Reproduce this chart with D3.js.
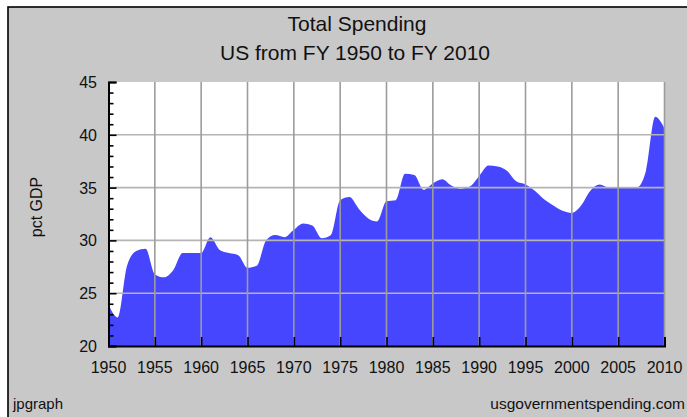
<!DOCTYPE html>
<html>
<head>
<meta charset="utf-8">
<script src="https://cdn.jsdelivr.net/npm/d3@7"></script>
<style>
  body { margin: 0; background: #fff; }
  svg { display: block; font-family: "Liberation Sans", Arial, sans-serif; }
</style>
</head>
<body>
<div id="chart"></div>
<script>
// fiscal years and total spending, pct of GDP
var years = [1950, 1951, 1952, 1953, 1954, 1955, 1956, 1957, 1958, 1959,
             1960, 1961, 1962, 1963, 1964, 1965, 1966, 1967, 1968, 1969,
             1970, 1971, 1972, 1973, 1974, 1975, 1976, 1977, 1978, 1979,
             1980, 1981, 1982, 1983, 1984, 1985, 1986, 1987, 1988, 1989,
             1990, 1991, 1992, 1993, 1994, 1995, 1996, 1997, 1998, 1999,
             2000, 2001, 2002, 2003, 2004, 2005, 2006, 2007, 2008, 2009, 2010];
var spending = [23.9, 22.7, 27.6, 29.0, 29.2, 26.8, 26.5, 27.2, 28.8, 28.8,
                28.8, 30.3, 29.1, 28.8, 28.6, 27.4, 27.6, 30.0, 30.5, 30.3,
                31.0, 31.6, 31.4, 30.2, 30.5, 33.8, 34.1, 33.0, 32.1, 31.8,
                33.7, 33.8, 36.3, 36.2, 34.8, 35.4, 35.8, 35.2, 34.9, 35.1,
                36.1, 37.1, 37.0, 36.6, 35.6, 35.3, 34.7, 33.9, 33.3, 32.8,
                32.6, 33.3, 34.7, 35.3, 35.0, 35.0, 35.0, 35.0, 36.6, 41.7, 40.6];
var xTicks = [1950, 1955, 1960, 1965, 1970, 1975, 1980, 1985, 1990, 1995, 2000, 2005, 2010];
var yTicks = [20, 25, 30, 35, 40, 45];
var yMinor = d3.range(20, 46, 1);

var w = 687, h = 417;
var plot = {left: 108.5, right: 664.5, top: 82, bottom: 346};

var svg = d3.select("#chart")
  .append("svg")
  .attr("width", w)
  .attr("height", h);

// outer frame
svg.append("rect")
  .attr("x", 8).attr("y", 7)
  .attr("width", w).attr("height", h)
  .attr("fill", "#c8c8c8")
  .attr("stroke", "#000")
  .attr("stroke-width", 1.6);

var dataset = years.map((y, i) => ({year: y, value: spending[i]}));

var xScale = d3.scaleLinear()
  .domain([1950, 2010])
  .range([plot.left, plot.right]);

var yScale = d3.scaleLinear()
  .domain([20, 45])
  .range([plot.bottom, plot.top]);

// plot background
svg.append("rect")
  .attr("x", plot.left).attr("y", plot.top)
  .attr("width", plot.right - plot.left)
  .attr("height", plot.bottom - plot.top)
  .attr("fill", "#fff");

// area
var area = d3.area()
  .x((d) => xScale(d.year))
  .y0(yScale(20))
  .y1((d) => yScale(d.value))
  .curve(d3.curveMonotoneX);

svg.append("path")
  .datum(dataset)
  .attr("d", area)
  .attr("fill", "#4646ff");

// grid, drawn over the area
svg.append("g")
  .selectAll("line")
  .data(yTicks.filter((t) => t > 20 && t < 45))
  .enter()
  .append("line")
  .attr("x1", plot.left).attr("x2", plot.right)
  .attr("y1", (d) => yScale(d)).attr("y2", (d) => yScale(d))
  .attr("stroke", "#b4b4b4")
  .attr("stroke-width", 1.6);

svg.append("g")
  .selectAll("line")
  .data(xTicks.filter((t) => t > 1950))
  .enter()
  .append("line")
  .attr("x1", (d) => xScale(d)).attr("x2", (d) => xScale(d))
  .attr("y1", plot.top).attr("y2", plot.bottom)
  .attr("stroke", "#9c9c9c")
  .attr("stroke-width", 1.6);

// y axis with inward ticks
var yAxis = d3.axisRight(yScale)
  .tickValues(yTicks)
  .tickSize(8)
  .tickFormat("");
var gy = svg.append("g")
  .attr("transform", "translate(" + plot.left + ",0)")
  .call(yAxis);

var yAxisMinor = d3.axisRight(yScale)
  .tickValues(yMinor.filter((t) => t % 5 != 0))
  .tickSize(5)
  .tickFormat("");
var gyMinor = svg.append("g")
  .attr("transform", "translate(" + plot.left + ",0)")
  .call(yAxisMinor);
gyMinor.select(".domain").remove();

// x axis with inward ticks
var xAxis = d3.axisTop(xScale)
  .tickValues(xTicks)
  .tickSize(9)
  .tickFormat("");
var gx = svg.append("g")
  .attr("transform", "translate(0," + plot.bottom + ")")
  .call(xAxis);

svg.selectAll(".tick line").attr("stroke", "#000").attr("stroke-width", 1.6);
svg.selectAll(".domain").attr("stroke", "#000").attr("stroke-width", 2);

// tick labels
svg.append("g")
  .selectAll("text")
  .data(yTicks)
  .enter()
  .append("text")
  .attr("x", 97)
  .attr("y", (d) => yScale(d) + 6)
  .attr("text-anchor", "end")
  .attr("font-size", 16)
  .attr("fill", "#111")
  .text((d) => d);

svg.append("g")
  .selectAll("text")
  .data(xTicks)
  .enter()
  .append("text")
  .attr("x", (d) => xScale(d))
  .attr("y", 373)
  .attr("text-anchor", "middle")
  .attr("font-size", 16)
  .attr("fill", "#111")
  .text((d) => d);

// titles
svg.append("text")
  .attr("x", 357).attr("y", 31)
  .attr("text-anchor", "middle")
  .attr("font-size", 21)
  .attr("fill", "#111")
  .text("Total Spending");

svg.append("text")
  .attr("x", 355).attr("y", 60)
  .attr("text-anchor", "middle")
  .attr("font-size", 21)
  .attr("fill", "#111")
  .text("US from FY 1950 to FY 2010");

// y label
svg.append("text")
  .attr("text-anchor", "middle")
  .attr("transform", "translate(42,207) rotate(-90)")
  .attr("font-size", 16)
  .attr("fill", "#111")
  .text("pct GDP");

// footer
svg.append("text")
  .attr("x", 13).attr("y", 409)
  .attr("font-size", 15)
  .attr("fill", "#111")
  .text("jpgraph");

svg.append("text")
  .attr("x", 685).attr("y", 409)
  .attr("text-anchor", "end")
  .attr("font-size", 15.5)
  .attr("fill", "#111")
  .text("usgovernmentspending.com");
</script>
</body>
</html>
